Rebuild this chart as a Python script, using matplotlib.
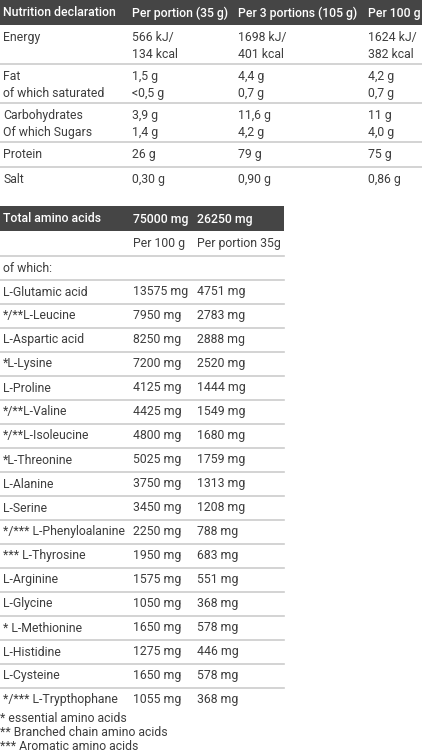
import matplotlib.pyplot as plt

plt.rcParams['font.family'] = ['Roboto', 'DejaVu Sans']

# top table
nutr_header = ['Nutrition declaration', 'Per portion (35 g)', 'Per 3 portions (105 g)', 'Per 100 g']
nutr_rows = [
    ['Energy\n', '566 kJ/\n134 kcal', '1698 kJ/\n401 kcal', '1624 kJ/\n382 kcal'],
    ['Fat\nof which saturated', '1,5 g\n<0,5 g', '4,4 g\n0,7 g', '4,2 g\n0,7 g'],
    ['Carbohydrates\nOf which Sugars', '3,9 g\n1,4 g', '11,6 g\n4,2 g', '11 g\n4,0 g'],
    ['Protein', '26 g', '79 g', '75 g'],
    ['Salt', '0,30 g', '0,90 g', '0,86 g'],
]

# amino acid table
amino_header = ['Total amino acids', '75000 mg', '26250 mg']
amino_sub = ['', 'Per 100 g', 'Per portion 35g']
amino_names = ['L-Glutamic acid', '*/**L-Leucine', 'L-Aspartic acid', '*L-Lysine', 'L-Proline',
               '*/**L-Valine', '*/**L-Isoleucine', '*L-Threonine', 'L-Alanine', 'L-Serine',
               '*/*** L-Phenyloalanine', '*** L-Thyrosine', 'L-Arginine', 'L-Glycine',
               '* L-Methionine', 'L-Histidine', 'L-Cysteine', '*/*** L-Trypthophane']
per_100g = [13575, 7950, 8250, 7200, 4125, 4425, 4800, 5025, 3750, 3450,
            2250, 1950, 1575, 1050, 1650, 1275, 1650, 1055]
per_portion = [4751, 2783, 2888, 2520, 1444, 1549, 1680, 1759, 1313, 1208,
               788, 683, 551, 368, 578, 446, 578, 368]
footnotes = ['* essential amino acids', '** Branched chain amino acids', '*** Aromatic amino acids']

W, H = 422, 755
dark = '#454545'
txt = '#3d3d3d'
grid = '#cccccc'
fs = 8.8

fig = plt.figure(figsize=(W / 100, H / 100), dpi=100)
ax = fig.add_axes([0, 0, 1, 1])
ax.set_xlim(0, W)
ax.set_ylim(H, 0)
ax.axis('off')

# ---- top table ----
cols1 = [3, 132, 238, 368]
ax.axhspan(0, 25, xmin=0, xmax=1, color=dark, lw=0)
for x, t in zip(cols1, nutr_header):
    ax.text(x, 13, t, color='white', fontsize=fs, fontweight='medium', va='center')

row_top = [25, 64, 103, 142, 167]
row_bot = [64, 103, 142, 167, 191]
for i, row in enumerate(nutr_rows):
    y0 = row_top[i] + 6
    for x, t in zip(cols1, row):
        ax.text(x, y0, t, color=txt, fontsize=fs, va='top', linespacing=1.4)
    if i < len(nutr_rows) - 1:
        ax.axhline(row_bot[i], color=grid, lw=1.2)

# ---- amino table ----
tw = 284
ax.fill_between([0, tw], 206, 231, color=dark, lw=0)
cols2 = [3, 133, 197]
for x, t in zip(cols2, amino_header):
    ax.text(x, 219, t, color='white', fontsize=fs, fontweight='medium', va='center')

pitch = 24
y_sub = 244
for x, t in zip(cols2, amino_sub):
    ax.text(x, y_sub, t, color=txt, fontsize=fs, va='center')
ax.plot([0, tw], [y_sub + 12, y_sub + 12], color=grid, lw=1.2)
ax.text(cols2[0], y_sub + pitch, 'of which:', color=txt, fontsize=fs, va='center')
ax.plot([0, tw], [y_sub + 36, y_sub + 36], color=grid, lw=1.2)

for i, name in enumerate(amino_names):
    y = y_sub + pitch * (i + 2)
    ax.text(cols2[0], y, name, color=txt, fontsize=fs, va='center')
    ax.text(cols2[1], y, f'{per_100g[i]} mg', color=txt, fontsize=fs, va='center')
    ax.text(cols2[2], y, f'{per_portion[i]} mg', color=txt, fontsize=fs, va='center')
    if i < len(amino_names) - 1:
        ax.plot([0, tw], [y + 12, y + 12], color=grid, lw=1.2)

for j, t in enumerate(footnotes):
    ax.text(0, 719 + 14 * j, t, color=txt, fontsize=fs, va='center')

fig.savefig('out.png', dpi=100)
